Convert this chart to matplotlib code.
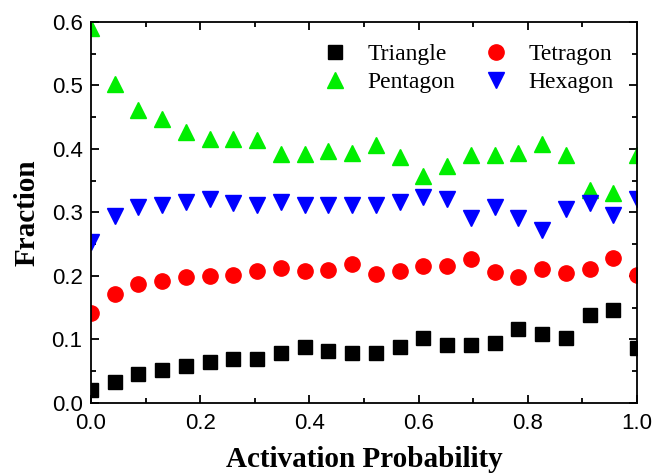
import numpy as np
import matplotlib.pyplot as plt
from matplotlib.ticker import MultipleLocator

# activation probability, 24 evenly spaced points from 0 to 1
prob = np.linspace(0, 1, 24)

triangle = [0.020, 0.033, 0.045, 0.052, 0.058, 0.065, 0.069, 0.070, 0.079, 0.088, 0.082, 0.078,
            0.079, 0.088, 0.103, 0.091, 0.092, 0.095, 0.117, 0.108, 0.102, 0.139, 0.146, 0.087]
tetragon = [0.142, 0.172, 0.187, 0.192, 0.199, 0.200, 0.202, 0.208, 0.212, 0.208, 0.209, 0.219,
            0.203, 0.208, 0.215, 0.216, 0.227, 0.206, 0.199, 0.211, 0.204, 0.211, 0.228, 0.202]
pentagon = [0.590, 0.502, 0.461, 0.447, 0.426, 0.416, 0.416, 0.414, 0.392, 0.392, 0.397, 0.393,
            0.406, 0.388, 0.358, 0.373, 0.390, 0.390, 0.393, 0.408, 0.390, 0.336, 0.331, 0.390]
hexagon = [0.253, 0.294, 0.309, 0.312, 0.317, 0.321, 0.315, 0.312, 0.317, 0.312, 0.312, 0.312,
           0.312, 0.316, 0.325, 0.321, 0.291, 0.309, 0.291, 0.273, 0.306, 0.315, 0.296, 0.321]

fig = plt.figure(figsize=(6.54, 4.73), dpi=100)
ax = fig.add_axes([0.139, 0.148, 0.835, 0.8055])

h_tri, = ax.plot(prob, triangle, 's', color='black', ms=9.5, ls='none', label='Triangle')
h_tet, = ax.plot(prob, tetragon, 'o', color='red', ms=11, ls='none', label='Tetragon')
h_pen, = ax.plot(prob, pentagon, '^', color='#00ee00', ms=11.5, ls='none', label='Pentagon')
h_hex, = ax.plot(prob, hexagon, 'v', color='blue', ms=11.5, ls='none', label='Hexagon')

ax.set_xlim(0, 1)
ax.set_ylim(0, 0.6)
ax.xaxis.set_major_locator(MultipleLocator(0.2))
ax.xaxis.set_minor_locator(MultipleLocator(0.1))
ax.yaxis.set_major_locator(MultipleLocator(0.1))
ax.yaxis.set_minor_locator(MultipleLocator(0.05))
ax.tick_params(which='both', direction='in', top=True, right=True, width=1.3)
ax.tick_params(which='major', length=6, labelsize=16)
ax.tick_params(axis='y', which='major', pad=6)
ax.tick_params(axis='x', which='major', pad=7)
ax.tick_params(which='minor', length=3.5)
for lbl in ax.get_xticklabels() + ax.get_yticklabels():
    lbl.set_family('Liberation Sans')
for s in ax.spines.values():
    s.set_linewidth(1.3)

ax.set_xlabel('Activation Probability', family='Liberation Serif', fontweight='bold', fontsize=21)
ax.set_ylabel('Fraction', family='Liberation Serif', fontweight='bold', fontsize=21)
ax.xaxis.set_label_coords(0.5, -0.114)
ax.yaxis.set_label_coords(-0.092, 0.5)

# row-wise order: Triangle, Tetragon / Pentagon, Hexagon
ax.legend([h_tri, h_pen, h_tet, h_hex], ['Triangle', 'Pentagon', 'Tetragon', 'Hexagon'],
          loc='upper left', bbox_to_anchor=(0.386, 1.0), ncol=2, frameon=False,
          prop={'family': 'Liberation Serif', 'size': 17},
          handlelength=1.0, handletextpad=0.9, columnspacing=1.2, labelspacing=0.3)

fig.savefig('out.png', dpi=100)
